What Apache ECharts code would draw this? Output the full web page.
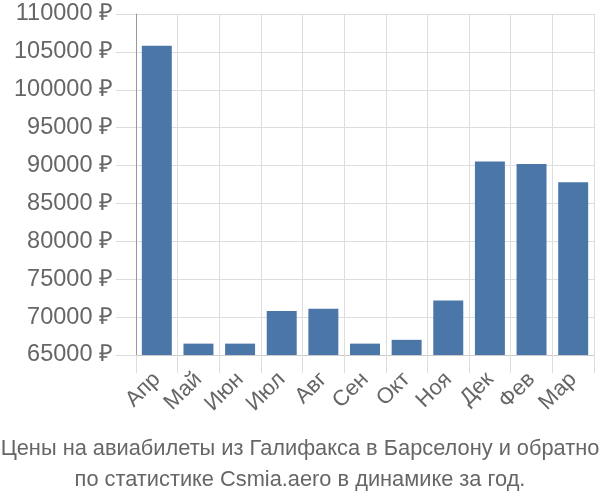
<!DOCTYPE html>
<html>
<head>
<meta charset="utf-8">
<script src="https://cdn.jsdelivr.net/npm/echarts@6/dist/echarts.min.js"></script>
<style>html,body{margin:0;padding:0;background:#fff}#c{width:600px;height:500px}</style>
</head>
<body>
<div id="c"></div>
<script>
const categories = ['Апр','Май','Июн','Июл','Авг','Сен','Окт','Ноя','Дек','Фев','Мар'];
const prices = [105800, 66500, 66500, 70800, 71100, 66500, 67000, 72200, 90550, 90200, 87800];
const yMin = 65000, yMax = 110000, yStep = 5000;
const currency = ' ₽';
const titleLines = ['Цены на авиабилеты из Галифакса в Барселону и обратно', 'по статистике Csmia.aero в динамике за год.'];

const font = 'Liberation Sans, Arial, sans-serif';
const chart = echarts.init(document.getElementById('c'), null, {renderer: 'canvas'});
chart.setOption({
  animation: false,
  title: {
    text: titleLines.join('\n'),
    left: 'center',
    top: 428,
    textStyle: {fontFamily: font, fontSize: 21.8, fontWeight: 'normal', color: '#666', lineHeight: 31}
  },
  grid: {left: 136, right: 6, top: 14, bottom: 145, containLabel: false},
  xAxis: {
    type: 'category',
    data: categories,
    boundaryGap: true,
    axisLine: {show: true, lineStyle: {color: '#ccc', width: 1}},
    axisTick: {show: true, length: 18, interval: 0, lineStyle: {color: '#ddd'}},
    splitLine: {show: true, interval: 0, lineStyle: {color: '#ddd'}},
    axisLabel: {interval: 0, rotate: 45, margin: 21, fontFamily: font, fontSize: 22, color: '#666'}
  },
  yAxis: {
    type: 'value',
    min: yMin, max: yMax, interval: yStep,
    axisLine: {show: true, lineStyle: {color: '#999', width: 1}},
    axisTick: {show: true, length: 20, lineStyle: {color: '#ddd'}},
    splitLine: {show: true, lineStyle: {color: '#ddd'}},
    axisLabel: {margin: 23, fontFamily: font, fontSize: 23.5, color: '#666', formatter: v => v + currency}
  },
  series: [{
    type: 'bar',
    data: prices,
    barCategoryGap: '28%',
    itemStyle: {color: '#4b77a8'}
  }]
});
</script>
</body>
</html>
